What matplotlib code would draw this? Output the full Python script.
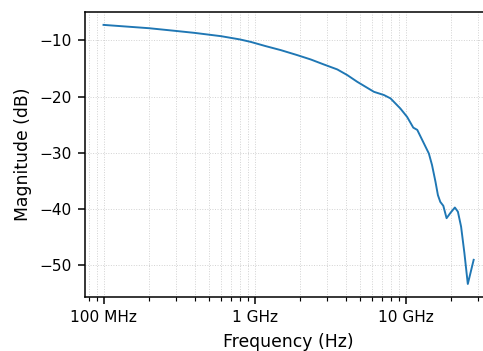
import numpy as np
import matplotlib
matplotlib.use("Agg")
import matplotlib.pyplot as plt
from matplotlib.ticker import FixedLocator, FixedFormatter

freq_ghz = [0.1, 0.2, 0.3, 0.4, 0.6, 0.8, 0.94, 1.18, 1.49, 1.91, 2.35, 2.87,
            3.52, 4.1, 4.77, 6.15, 7.16, 7.92, 9.2, 10.2, 11.2, 11.9, 13.0,
            14.2, 14.9, 15.7, 16.3, 16.9, 17.7, 18.6, 19.8, 21.1, 22.1, 23.2,
            24.4, 25.7, 28.1]
mag_db = [-7.23, -7.82, -8.3, -8.65, -9.24, -9.82, -10.25, -11.0, -11.72,
          -12.6, -13.38, -14.27, -15.15, -16.16, -17.35, -19.13, -19.7, -20.3,
          -22.1, -23.6, -25.5, -25.9, -28.0, -30.1, -32.15, -35.1, -37.5,
          -38.7, -39.4, -41.6, -40.6, -39.7, -40.45, -43.1, -47.8, -53.3, -49.0]

tick_hz = [1e8, 1e9, 1e10]
tick_labels = ["100 MHz", "1 GHz", "10 GHz"]

DPI = 138
fig = plt.figure(figsize=(483 / DPI, 351 / DPI), dpi=DPI)
ax = fig.add_axes([0.176, 0.154, 0.843, 0.812])

f = np.array(freq_ghz) * 1e9
ax.semilogx(f, mag_db, color="#1f77b4", lw=1.0)

ax.xaxis.set_major_locator(FixedLocator(tick_hz))
ax.xaxis.set_major_formatter(FixedFormatter(tick_labels))
ax.grid(True, which="both", ls=":", lw=0.5, color="0.82")
ax.spines["right"].set_visible(False)
ax.tick_params(labelsize=8)
ax.set_xlabel("Frequency (Hz)", fontsize=9)
ax.set_ylabel("Magnitude (dB)", fontsize=9)

fig.savefig("out.png", dpi=DPI)
